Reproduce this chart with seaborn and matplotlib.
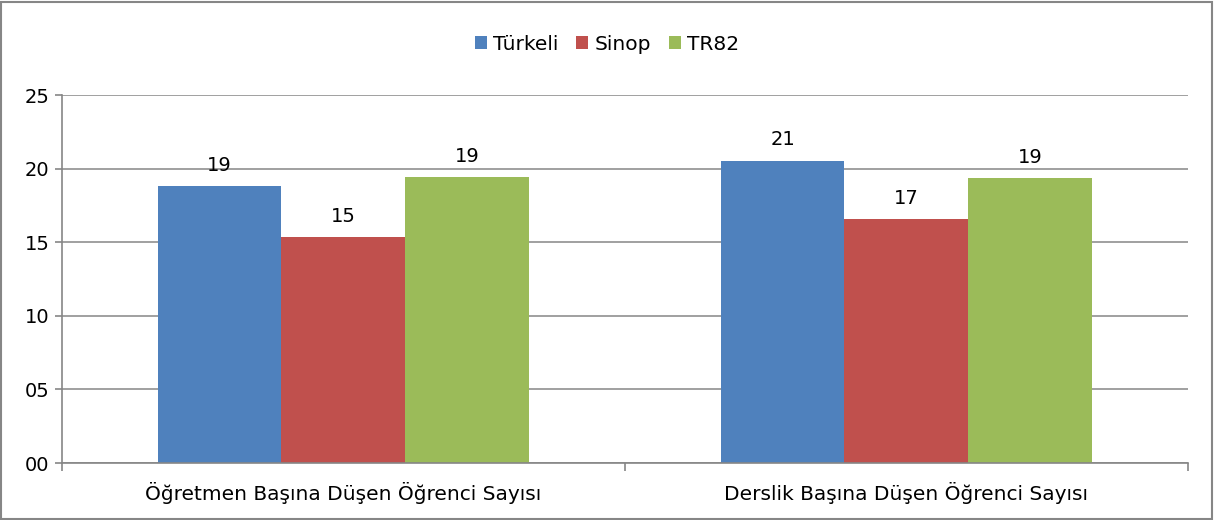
import pandas as pd
import seaborn as sns
import matplotlib.pyplot as plt
from matplotlib.patches import Rectangle

categories = ["Öğretmen Başına Düşen Öğrenci Sayısı", "Derslik Başına Düşen Öğrenci Sayısı"]
series = ["Türkeli", "Sinop", "TR82"]
turkeli = [18.8, 20.55]
sinop = [15.35, 16.55]
tr82 = [19.45, 19.35]
colors = ["#4F81BD", "#C0504D", "#9BBB59"]

df = pd.DataFrame({
    "Kategori": categories * 3,
    "Seri": [s for s in series for _ in categories],
    "Değer": turkeli + sinop + tr82,
})

sns.set_theme(style="white")
plt.rcParams["font.family"] = ["DejaVu Sans"]
plt.rcParams["text.color"] = "black"

fig = plt.figure(figsize=(12.14, 5.2), dpi=100)
ax = fig.add_axes([0.051, 0.1096, 0.9275, 0.7077])

sns.barplot(data=df, x="Kategori", y="Değer", hue="Seri", palette=colors,
            width=0.66, gap=0, saturation=1, linewidth=0, ax=ax, legend=True)

gray = "#868686"
ax.set_ylim(0, 25)
ax.set_xlim(-0.5, 1.5)
ax.set_yticks(range(0, 26, 5))
ax.set_yticklabels([f"{v:02d}" for v in range(0, 26, 5)])
ax.yaxis.grid(True, color=gray, linewidth=1.1)
ax.set_axisbelow(True)
for side in ["top", "right"]:
    ax.spines[side].set_visible(False)
for side in ["left", "bottom"]:
    ax.spines[side].set_color(gray)
    ax.spines[side].set_linewidth(1.2)
ax.tick_params(axis="y", which="major", left=True, length=5, color=gray, width=1.2,
               labelsize=14, pad=4, labelcolor="black")
ax.tick_params(axis="x", which="major", bottom=False, labelsize=14.5, pad=8, labelcolor="black")
ax.set_xticks([-0.5, 0.5, 1.5], minor=True)
ax.tick_params(axis="x", which="minor", bottom=True, length=6, color=gray, width=1.2, direction="out")
ax.set_xlabel("")
ax.set_ylabel("")

for bars in ax.containers:
    ax.bar_label(bars, labels=[f"{b.get_height():.0f}" for b in bars], padding=8,
                 fontsize=14, color="black")

handles, labels = ax.get_legend_handles_labels()
ax.legend(handles, labels, loc="center", bbox_to_anchor=(0.5, 0.915), bbox_transform=fig.transFigure,
          ncol=3, frameon=False, fontsize=14.5, handlelength=0.6, handleheight=0.6,
          handletextpad=0.3, columnspacing=0.9, labelcolor="black")

fig.patches.append(Rectangle((0.001, 0.002), 0.997, 0.995, transform=fig.transFigure,
                             fill=False, edgecolor=gray, linewidth=1.5))

fig.savefig("out.png", dpi=100)
